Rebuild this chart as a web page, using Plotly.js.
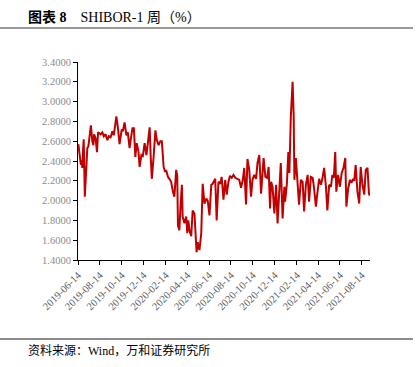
<!DOCTYPE html>
<html><head><meta charset="utf-8">
<script src="https://cdn.plot.ly/plotly-3.0.1.min.js"></script>
<style>html,body{margin:0;padding:0;background:#fff;}#chart{width:418px;height:367px;}</style>
</head><body><div id="chart"></div>
<script>
const dates = [
"2019-06-15","2019-06-19","2019-06-22","2019-06-24","2019-06-26","2019-06-28","2019-06-30","2019-07-03","2019-07-07","2019-07-10",
"2019-07-13","2019-07-17","2019-07-20","2019-07-24","2019-07-27","2019-07-29","2019-08-02","2019-08-06","2019-08-09","2019-08-16",
"2019-08-21","2019-08-25","2019-08-30","2019-09-04","2019-09-08","2019-09-13","2019-09-18","2019-09-22","2019-09-29","2019-10-03",
"2019-10-08","2019-10-14","2019-10-17","2019-10-22","2019-10-27","2019-10-31","2019-11-05","2019-11-08","2019-11-13","2019-11-17",
"2019-11-21","2019-11-25","2019-11-30","2019-12-03","2019-12-08","2019-12-12","2019-12-17","2019-12-22","2019-12-26","2019-12-31",
"2020-01-03","2020-01-06","2020-01-11","2020-01-16","2020-01-20","2020-01-25","2020-01-30","2020-02-03","2020-02-08","2020-02-12",
"2020-02-15","2020-02-20","2020-02-24","2020-02-29","2020-03-05","2020-03-09","2020-03-14","2020-03-17","2020-03-19","2020-03-23",
"2020-03-26","2020-03-30","2020-04-01","2020-04-06","2020-04-11","2020-04-14","2020-04-17","2020-04-20","2020-04-25","2020-04-29",
"2020-05-04","2020-05-07","2020-05-10","2020-05-13","2020-05-18","2020-05-23","2020-05-27","2020-06-01","2020-06-06","2020-06-10",
"2020-06-15","2020-06-20","2020-06-24","2020-07-01","2020-07-05","2020-07-10","2020-07-15","2020-07-19","2020-07-24","2020-07-29",
"2020-08-02","2020-08-07","2020-08-11","2020-08-16","2020-08-21","2020-08-26","2020-09-01","2020-09-06","2020-09-11","2020-09-16",
"2020-09-20","2020-09-25","2020-09-29","2020-10-04","2020-10-09","2020-10-13","2020-10-18","2020-10-23","2020-10-27","2020-11-01",
"2020-11-06","2020-11-10","2020-11-13","2020-11-18","2020-11-23","2020-11-27","2020-12-01","2020-12-04","2020-12-08","2020-12-13",
"2020-12-18","2020-12-22","2020-12-27","2020-12-31","2021-01-05","2021-01-10","2021-01-12","2021-01-17","2021-01-21","2021-01-24",
"2021-01-28","2021-02-02","2021-02-05","2021-02-07","2021-02-11","2021-02-15","2021-02-20","2021-02-25","2021-03-02","2021-03-06",
"2021-03-11","2021-03-16","2021-03-20","2021-03-25","2021-03-30","2021-04-03","2021-04-08","2021-04-12","2021-04-17","2021-04-22",
"2021-04-26","2021-05-01","2021-05-06","2021-05-10","2021-05-15","2021-05-20","2021-05-24","2021-05-28","2021-06-01","2021-06-04",
"2021-06-09","2021-06-14","2021-06-19","2021-06-24","2021-06-29","2021-07-02","2021-07-07","2021-07-12","2021-07-16","2021-07-21",
"2021-07-24","2021-07-28","2021-08-02","2021-08-07","2021-08-11","2021-08-16","2021-08-21","2021-08-25","2021-08-30","2021-09-03",
"2021-09-05"
];
const shibor1w = [
2.57,2.44,2.36,2.41,2.33,2.51,2.62,2.04,2.41,2.53,
2.55,2.70,2.76,2.60,2.56,2.67,2.63,2.49,2.69,2.67,
2.69,2.65,2.67,2.61,2.65,2.64,2.70,2.66,2.85,2.75,
2.57,2.72,2.70,2.79,2.66,2.69,2.53,2.61,2.73,2.73,
2.44,2.58,2.49,2.34,2.46,2.45,2.58,2.46,2.59,2.74,
2.44,2.22,2.44,2.71,2.61,2.56,2.60,2.60,2.34,2.29,
2.31,2.24,2.22,2.19,2.09,2.04,2.31,2.25,1.75,1.70,
1.94,2.16,1.84,1.77,1.84,1.67,1.80,1.70,1.64,1.90,
1.87,1.67,1.48,1.58,1.50,1.67,2.17,1.97,2.02,2.00,
1.85,2.16,2.17,2.22,1.80,2.19,2.17,2.24,2.01,2.21,
2.06,2.19,2.25,2.23,2.26,2.23,2.22,2.21,2.13,2.21,
2.33,1.96,2.42,2.31,2.04,2.21,2.26,2.22,2.38,2.46,
2.07,2.31,2.43,2.24,2.23,2.34,1.92,2.19,2.14,1.87,
2.16,1.77,2.14,2.38,1.82,2.14,1.99,2.17,2.49,2.28,
2.85,3.20,2.85,2.21,2.43,2.22,1.96,2.21,2.19,1.89,
2.16,2.26,1.99,2.24,2.23,2.12,1.94,2.07,2.22,2.16,
2.22,2.33,2.14,1.90,2.16,2.14,2.26,2.23,2.49,2.09,
2.26,2.14,2.28,2.33,2.43,1.94,2.12,2.21,2.18,2.22,
2.20,2.36,2.09,1.97,2.34,2.16,2.06,2.31,2.33,2.07,
2.05
];
const tickDates = ["2019-06-14","2019-08-14","2019-10-14","2019-12-14","2020-02-14","2020-04-14","2020-06-14","2020-08-14","2020-10-14","2020-12-14","2021-02-14","2021-04-14","2021-06-14","2021-08-14"];
const yTicks = [1.4,1.6,1.8,2.0,2.2,2.4,2.6,2.8,3.0,3.2,3.4];
const titleText = "<b>图表 8</b>&nbsp;&nbsp;&nbsp;&nbsp;SHIBOR-1 周（%）";
const sourceText = "资料来源：Wind，万和证券研究所";

const serif = "Liberation Serif, Noto Sans CJK SC, serif";
const trace = {x: dates, y: shibor1w, type: "scatter", mode: "lines",
  line: {color: "#C00000", width: 2}, hoverinfo: "skip"};
const layout = {
  width: 418, height: 367,
  margin: {l: 78, r: 48, t: 62, b: 107},
  paper_bgcolor: "#fff", plot_bgcolor: "#fff",
  showlegend: false,
  xaxis: {type: "date", range: ["2019-06-14", "2021-09-06"],
    tickvals: tickDates, ticktext: tickDates, tickangle: -45,
    showgrid: false, zeroline: false, showline: true, linecolor: "#000", linewidth: 1,
    ticks: "outside", ticklen: 4, tickcolor: "#000",
    tickfont: {family: serif, size: 10.5, color: "#595959"}},
  yaxis: {range: [1.4, 3.4], tickvals: yTicks, tickformat: ".4f",
    showgrid: false, zeroline: false, showline: true, linecolor: "#000", linewidth: 1,
    ticks: "outside", ticklen: 4, tickcolor: "#000",
    tickfont: {family: serif, size: 10.5, color: "#8c8c8c"}},
  shapes: [
    {type: "line", xref: "paper", yref: "paper", x0: -78/292, x1: 335/292, y0: 1+34/198, y1: 1+34/198, line: {color: "#333", width: 1}},
    {type: "line", xref: "paper", yref: "paper", x0: -78/292, x1: 335/292, y0: -79/198, y1: -79/198, line: {color: "#666", width: 1.5}}
  ],
  annotations: [
    {text: titleText, xref: "paper", yref: "paper", x: -52/292, y: 1+45/198, xanchor: "left", yanchor: "middle", showarrow: false,
     font: {family: serif, size: 14, color: "#000"}},
    {text: sourceText, xref: "paper", yref: "paper", x: -52/292, y: -90/198, xanchor: "left", yanchor: "middle", showarrow: false,
     font: {family: serif, size: 12, color: "#000"}}
  ]
};
Plotly.newPlot("chart", [trace], layout, {displayModeBar: false, staticPlot: true});
</script></body></html>
